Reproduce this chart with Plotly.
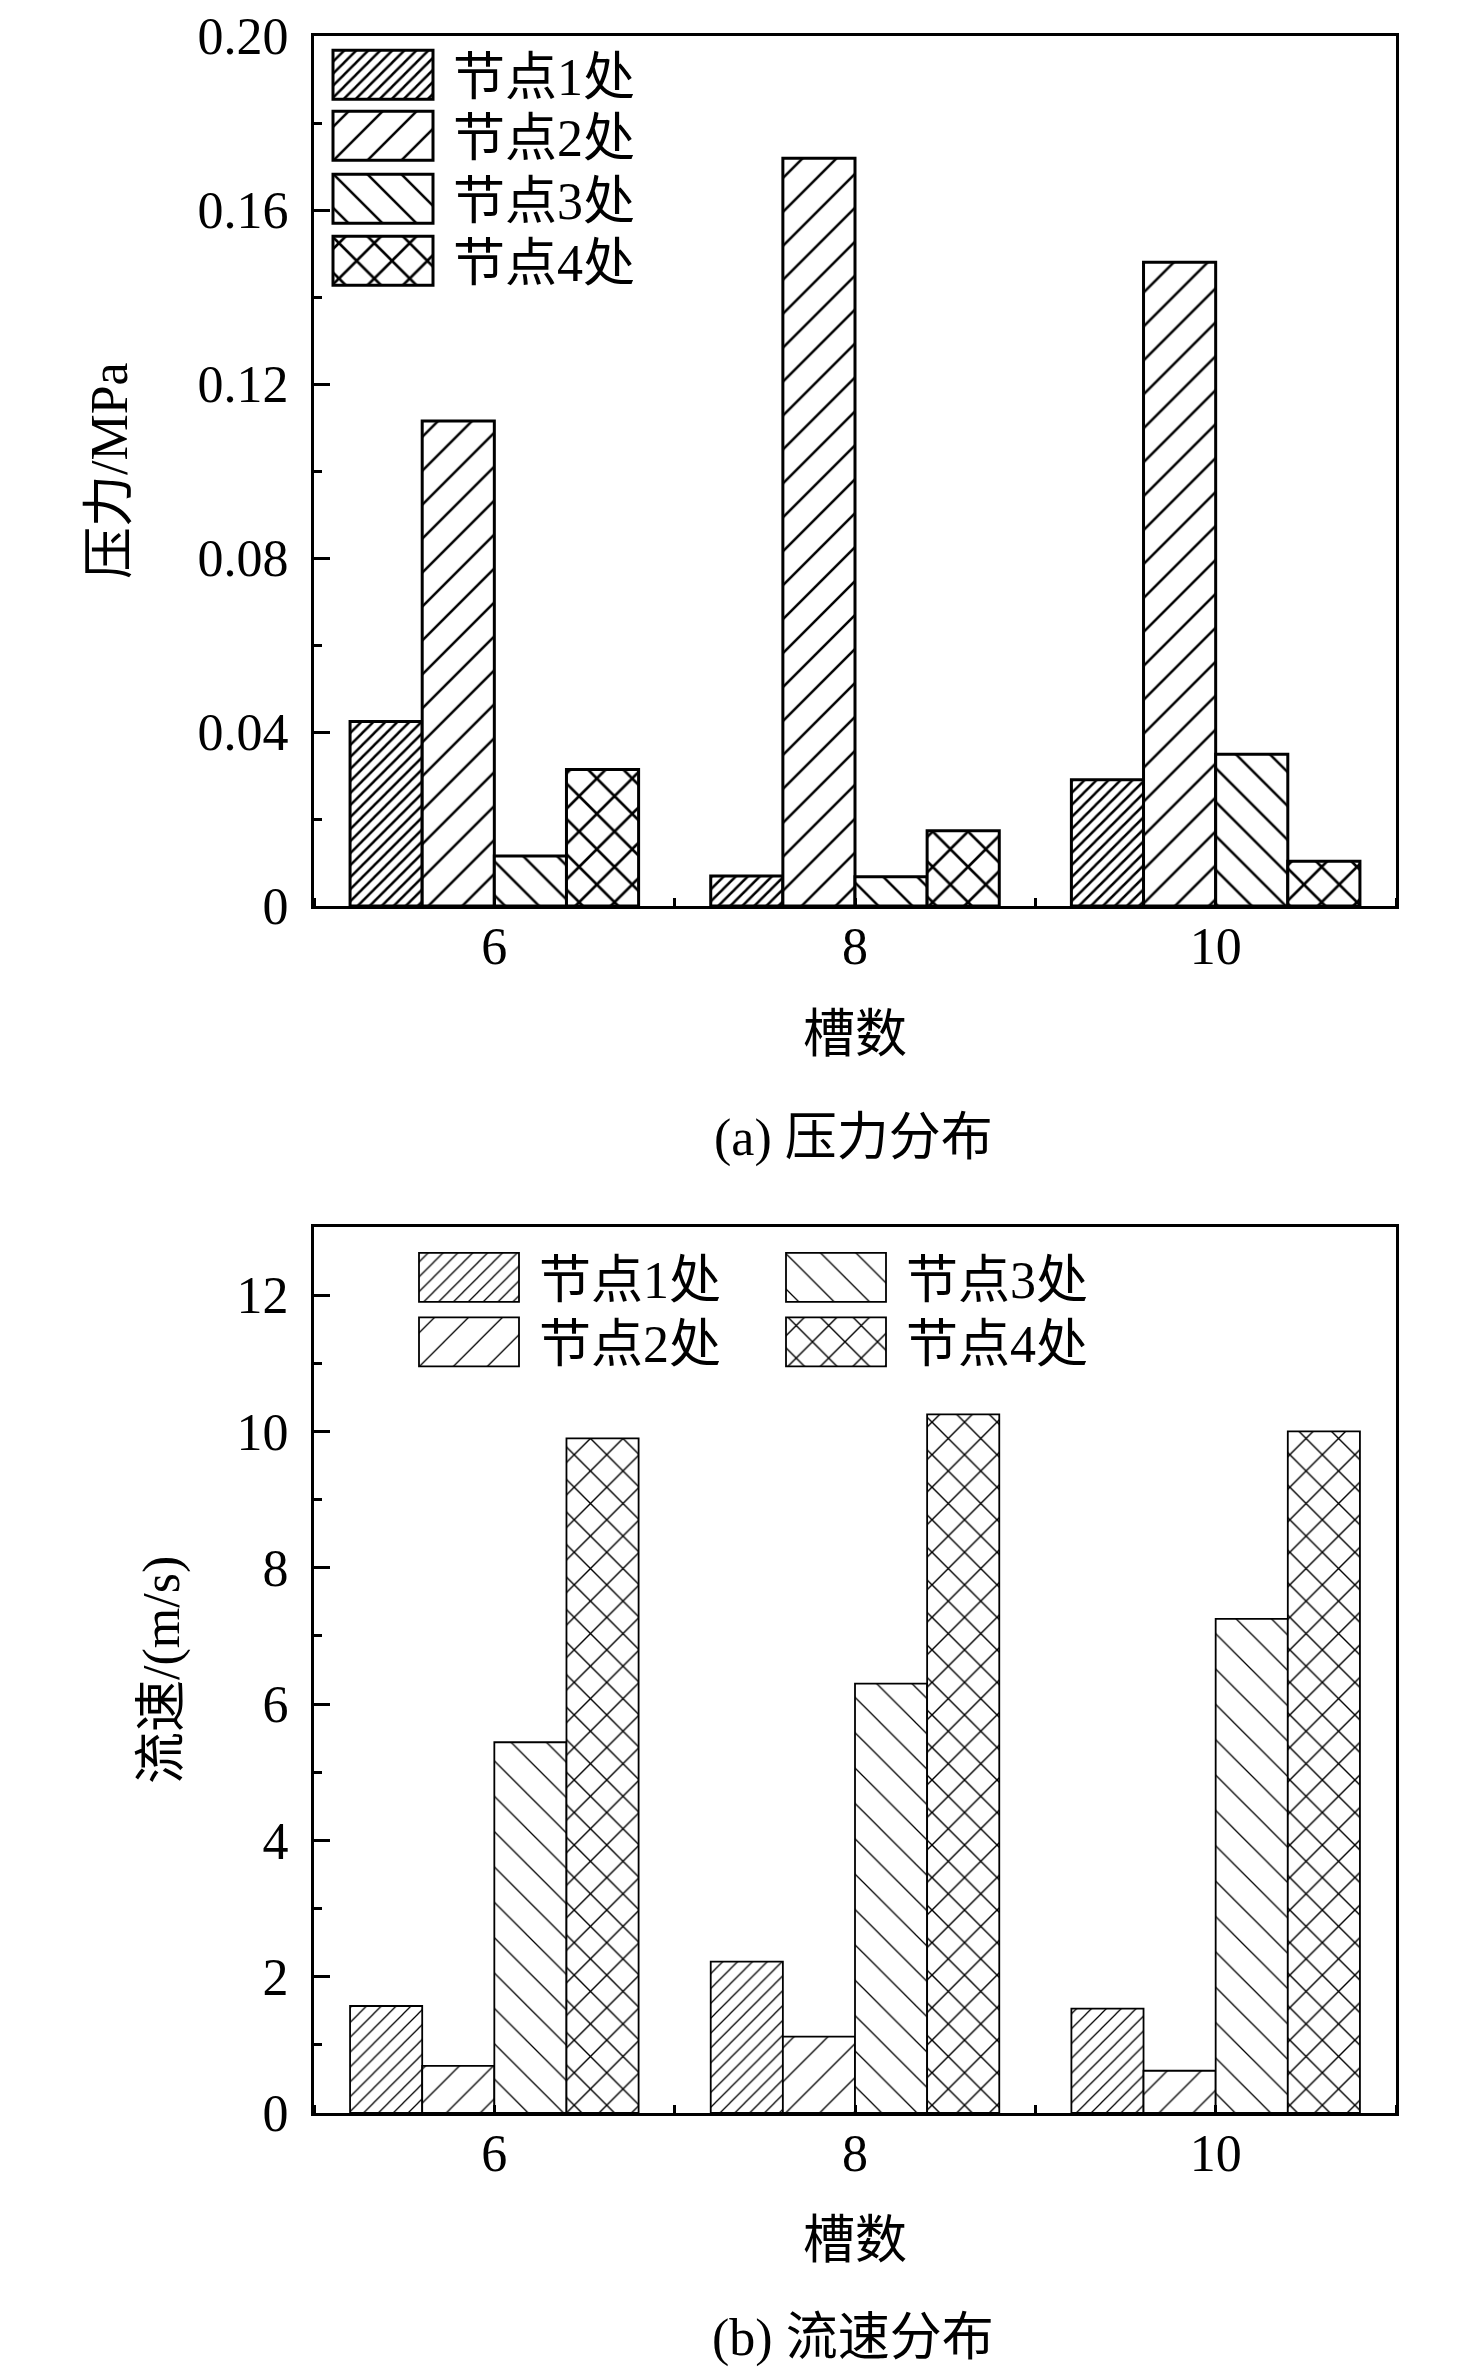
import plotly.graph_objects as go

# ---------------- data ----------------
categories = [6, 8, 10]
x_ticktext = ["6", "8", "10"]
series_names = ["节点1处", "节点2处", "节点3处", "节点4处"]

pressure_node1 = [0.0424, 0.0069, 0.0290]
pressure_node2 = [0.1115, 0.1719, 0.1480]
pressure_node3 = [0.0115, 0.0067, 0.0349]
pressure_node4 = [0.0314, 0.0173, 0.0103]

velocity_node1 = [1.57, 2.22, 1.53]
velocity_node2 = [0.69, 1.12, 0.62]
velocity_node3 = [5.44, 6.30, 7.25]
velocity_node4 = [9.90, 10.25, 10.00]

p_tickvals = [0, 0.04, 0.08, 0.12, 0.16, 0.20]
p_ticktext = ["0", "0.04", "0.08", "0.12", "0.16", "0.20"]
v_tickvals = [0, 2, 4, 6, 8, 10, 12]
v_ticktext = ["0", "2", "4", "6", "8", "10", "12"]

# ---------------- layout helpers ----------------
W, H = 1476, 2367
ML, MR, MT, MB = 306, 88, 28, 262
GW, GH = W - ML - MR, H - MT - MB


def px(xp):
    return (xp - ML) / GW


def py(yp):
    return (H - MB - yp) / GH


SERIF = "Liberation Serif, 'Noto Sans CJK SC', serif"
FS = 52

pressure = [pressure_node1, pressure_node2, pressure_node3, pressure_node4]
velocity = [velocity_node1, velocity_node2, velocity_node3, velocity_node4]

top_patterns = [
    dict(shape="/", size=8.5, solidity=0.29),
    dict(shape="/", size=24, solidity=0.105),
    dict(shape="\\", size=24, solidity=0.105),
    dict(shape="x", size=25, solidity=0.2),
]
bot_patterns = [
    dict(shape="/", size=10.5, solidity=0.12),
    dict(shape="/", size=24, solidity=0.055),
    dict(shape="\\", size=25, solidity=0.052),
    dict(shape="x", size=23, solidity=0.118),
]

top_legends = ["legend", "legend2", "legend3", "legend4"]
bot_legends = ["legend5", "legend6", "legend7", "legend8"]

fig = go.Figure()

for i, name in enumerate(series_names):
    pat = dict(top_patterns[i], fgcolor="black", bgcolor="white", fillmode="replace")
    fig.add_trace(go.Bar(
        x=categories, y=pressure[i], name=name,
        marker=dict(color="white", pattern=pat, line=dict(color="black", width=3)),
        xaxis="x", yaxis="y", legend=top_legends[i],
    ))

for i, name in enumerate(series_names):
    pat = dict(bot_patterns[i], fgcolor="black", bgcolor="white", fillmode="replace")
    fig.add_trace(go.Bar(
        x=categories, y=velocity[i], name=name,
        marker=dict(color="white", pattern=pat, line=dict(color="black", width=1.8)),
        xaxis="x2", yaxis="y2", legend=bot_legends[i],
    ))

axis_common = dict(
    showline=True, linecolor="black", linewidth=3, mirror=True,
    showgrid=False, zeroline=False, automargin=False,
    tickfont=dict(family=SERIF, size=FS, color="black"),
)

xaxis_common = dict(
    axis_common, range=[5, 11], tickvals=categories, ticktext=x_ticktext,
    ticks="", ticklabelstandoff=-7,
    minor=dict(ticks="inside", dtick=1, tick0=5, ticklen=8, tickwidth=3, tickcolor="black"),
)

leg_common = dict(xanchor="left", yanchor="middle", orientation="v",
                  bgcolor="rgba(0,0,0,0)", itemwidth=112,
                  font=dict(size=FS, family=SERIF, color="black"))

# legend anchor positions (px): (x of legend box, y of swatch centre)
top_leg_pos = [(323, 67), (323, 128), (323, 191), (323, 253)]
bot_leg_pos = [(409, 1269.5), (409, 1334), (776, 1269.5), (776, 1334)]

legend_layout = {}
for name, (lx, ly) in zip(top_legends + bot_legends, top_leg_pos + bot_leg_pos):
    legend_layout[name] = dict(leg_common, x=px(lx), y=py(ly))

fig.update_layout(
    width=W, height=H,
    margin=dict(l=ML, r=MR, t=MT, b=MB, autoexpand=False),
    paper_bgcolor="white", plot_bgcolor="white",
    barmode="group", bargap=0.2, bargroupgap=0,
    font=dict(family=SERIF, size=FS, color="black"),
    showlegend=True,
    xaxis=dict(xaxis_common, domain=[0, 1], anchor="y"),
    yaxis=dict(axis_common, domain=[py(898), py(28)], anchor="x", range=[0, 0.20],
               tickvals=p_tickvals, ticktext=p_ticktext, ticks="inside", ticklen=16,
               tickwidth=3, tickcolor="black", ticklabelstandoff=12,
               minor=dict(ticks="inside", dtick=0.02, ticklen=8, tickwidth=3, tickcolor="black")),
    xaxis2=dict(xaxis_common, domain=[0, 1], anchor="y2"),
    yaxis2=dict(axis_common, domain=[py(2105), py(1219)], anchor="x2", range=[0, 13],
                tickvals=v_tickvals, ticktext=v_ticktext, ticks="inside", ticklen=16,
                tickwidth=3, tickcolor="black", ticklabelstandoff=12,
                minor=dict(ticks="inside", dtick=1, ticklen=8, tickwidth=3, tickcolor="black")),
    **legend_layout,
)

ann = [
    dict(text="压力/MPa", x=px(101), y=py(463), textangle=-90),
    dict(text="流速/(m/s)", x=px(154), y=py(1662), textangle=-90),
    dict(text="槽数", x=px(847), y=py(1026)),
    dict(text="槽数", x=px(847), y=py(2232)),
    dict(text="(a) 压力分布", x=px(845), y=py(1130)),
    dict(text="(b) 流速分布", x=px(845), y=py(2330)),
]
for a in ann:
    fig.add_annotation(xref="paper", yref="paper", showarrow=False,
                       xanchor="center", yanchor="middle",
                       font=dict(family=SERIF, size=FS, color="black"), **a)

post = """
var gd = document.getElementById('{plot_id}');
function fixLegend(){
  var fills = {};
  gd.querySelectorAll('.barlayer g.trace').forEach(function(g){
    var cd = g.__data__;
    if(!cd || !cd[0] || !cd[0].trace) return;
    var p = g.querySelector('path');
    if(p && p.style.fill) fills[cd[0].trace.index] = p.style.fill;
  });
  gd.querySelectorAll('g.traces').forEach(function(t){
    var d = t.__data__;
    var idx = (d && d[0] && d[0].trace) ? d[0].trace.index : null;
    t.querySelectorAll('.legendpoints path').forEach(function(p){
      p.setAttribute('d','M41,24.5H-59V-24.5H41Z');
      if(idx !== null && fills[idx]) p.style.fill = fills[idx];
    });
  });
}
fixLegend();
if (gd.on) { gd.on('plotly_afterplot', fixLegend); }
"""

fig.write_html("out.html", config={"responsive": False, "displayModeBar": False},
               post_script=post)
